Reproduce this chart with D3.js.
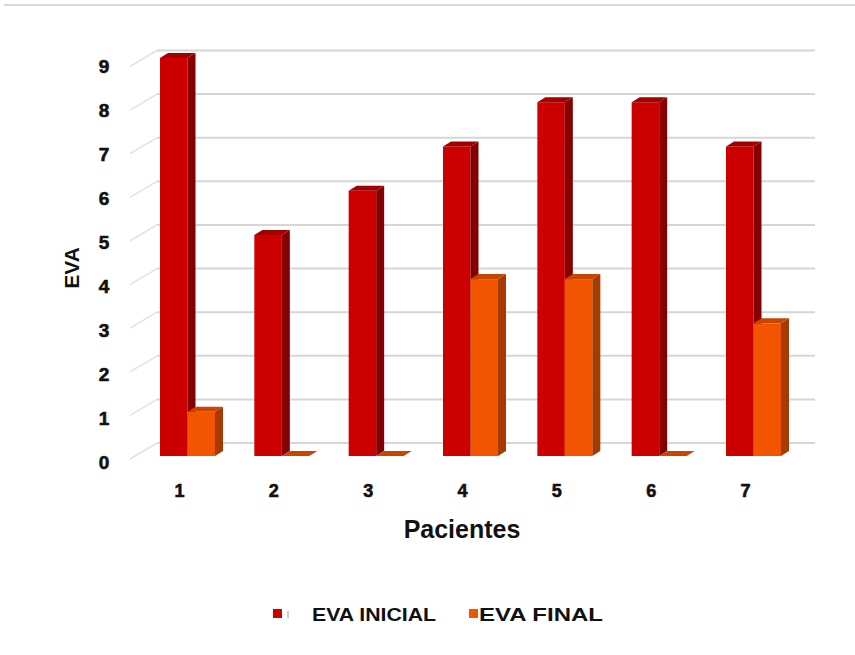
<!DOCTYPE html>
<html>
<head>
<meta charset="utf-8">
<script src="https://cdn.jsdelivr.net/npm/d3@7"></script>
<style>
  html, body { margin: 0; padding: 0; background: #fff; }
  svg { display: block; font-family: "Liberation Sans", Arial, sans-serif; }
  .heavy { stroke: #111; stroke-width: 0.6px; paint-order: stroke; }
</style>
</head>
<body>
<svg id="chart" width="855" height="655"></svg>
<script>
// Patients and pain scores (EVA) before and after treatment
const pacientes = ["1", "2", "3", "4", "5", "6", "7"];
const evaInicial = [9, 5, 6, 7, 8, 8, 7];
const evaFinal = [1, 0, 0, 4, 4, 0, 3];
const yTicks = [0, 1, 2, 3, 4, 5, 6, 7, 8, 9];
const seriesNames = ["EVA INICIAL", "EVA FINAL"];

const palette = [
  { front: "#cc0000", side: "#850000", top: "#a30000" },
  { front: "#f25400", side: "#a63a00", top: "#c84600" }
];

const svg = d3.select("#chart");

// top frame line
svg.append("line")
  .attr("x1", 4).attr("x2", 855).attr("y1", 5).attr("y2", 5)
  .attr("stroke", "#d8d8d8").attr("stroke-width", 2);

// scales: bars sit in front plane, grid on back wall
const x = d3.scaleBand().domain(pacientes).range([160, 781]).paddingInner(0.417).paddingOuter(0);
const yBar = d3.scaleLinear().domain([0, 9]).range([456, 58]);
const yWall = d3.scaleLinear().domain([0, 9]).range([443, 50.5]);
const yLabel = d3.scaleLinear().domain([0, 9]).range([462, 66]);
const wallLeft = 157, wallRight = 815, sideX = 130;
const depthX = 8, depthY = -5;

// back wall gridlines
const grid = svg.append("g");
grid.selectAll("line.h").data(yTicks).join("line")
  .attr("x1", wallLeft).attr("x2", wallRight)
  .attr("y1", d => yWall(d)).attr("y2", d => yWall(d))
  .attr("stroke", "#d6d6d6").attr("stroke-width", 2);
// side wall diagonals
grid.selectAll("line.d").data(yTicks).join("line")
  .attr("x1", sideX).attr("y1", d => yWall(d) + 16)
  .attr("x2", wallLeft).attr("y2", d => yWall(d))
  .attr("stroke", "#e2e2e2").attr("stroke-width", 1.5);

// y tick labels
svg.append("g").selectAll("text").data(yTicks).join("text")
  .attr("class", "heavy")
  .attr("x", 104).attr("y", d => yLabel(d))
  .attr("text-anchor", "middle").attr("dominant-baseline", "central")
  .attr("font-size", 19).attr("font-weight", "bold").attr("fill", "#111")
  .text(d => d);

// 3D bars
const barW = x.bandwidth() / 2;
function drawBar(g, x0, v, c) {
  const yTop = yBar(v), yBot = yBar(0);
  // front face
  g.append("rect").attr("x", x0).attr("y", yTop).attr("width", barW).attr("height", yBot - yTop)
    .attr("fill", c.front);
  // side face
  g.append("path")
    .attr("d", `M${x0 + barW},${yTop} L${x0 + barW + depthX},${yTop + depthY} L${x0 + barW + depthX},${yBot + depthY} L${x0 + barW},${yBot} Z`)
    .attr("fill", c.side);
  // top face
  g.append("path")
    .attr("d", `M${x0},${yTop} L${x0 + depthX},${yTop + depthY} L${x0 + barW + depthX},${yTop + depthY} L${x0 + barW},${yTop} Z`)
    .attr("fill", c.top);
}

const bars = svg.append("g");
pacientes.forEach((p, i) => {
  const g = bars.append("g");
  const x0 = x(p);
  drawBar(g, x0, evaInicial[i], palette[0]);
  drawBar(g, x0 + barW, evaFinal[i], palette[1]);
});

// category labels
svg.append("g").selectAll("text").data(pacientes).join("text")
  .attr("class", "heavy")
  .attr("x", d => x(d) + x.bandwidth() / 2 - 8).attr("y", 491)
  .attr("text-anchor", "middle").attr("dominant-baseline", "central")
  .attr("font-size", 18).attr("font-weight", "bold").attr("fill", "#111")
  .text(d => d);

// axis titles
svg.append("text").attr("x", 462).attr("y", 529)
  .attr("text-anchor", "middle").attr("dominant-baseline", "central")
  .attr("font-size", 25).attr("font-weight", "bold").attr("fill", "#111")
  .text("Pacientes");
svg.append("g")
  .attr("transform", "translate(71,268)")
  .append("text")
  .attr("transform", "rotate(-90)")
  .attr("text-anchor", "middle").attr("dominant-baseline", "central")
  .attr("font-size", 21).attr("font-weight", "bold").attr("fill", "#111")
  .text("EVA");

// legend
const legend = svg.append("g");
const legendItems = [
  { name: seriesNames[0], sx: 273, tx: 312, color: palette[0].front },
  { name: seriesNames[1], sx: 469, tx: 479, color: palette[1].front }
];
legendItems.forEach(it => {
  legend.append("rect").attr("x", it.sx).attr("y", 609).attr("width", 9).attr("height", 9).attr("fill", it.color);
  legend.append("text").attr("x", it.tx).attr("y", 614)
    .attr("dominant-baseline", "central")
    .attr("font-size", 19).attr("font-weight", "bold").attr("fill", "#111")
    .attr("textLength", 124).attr("lengthAdjust", "spacingAndGlyphs")
    .text(it.name);
});
legend.append("line").attr("x1", 288).attr("x2", 288).attr("y1", 611).attr("y2", 618)
  .attr("stroke", "#999").attr("stroke-width", 1);
</script>
</body>
</html>
